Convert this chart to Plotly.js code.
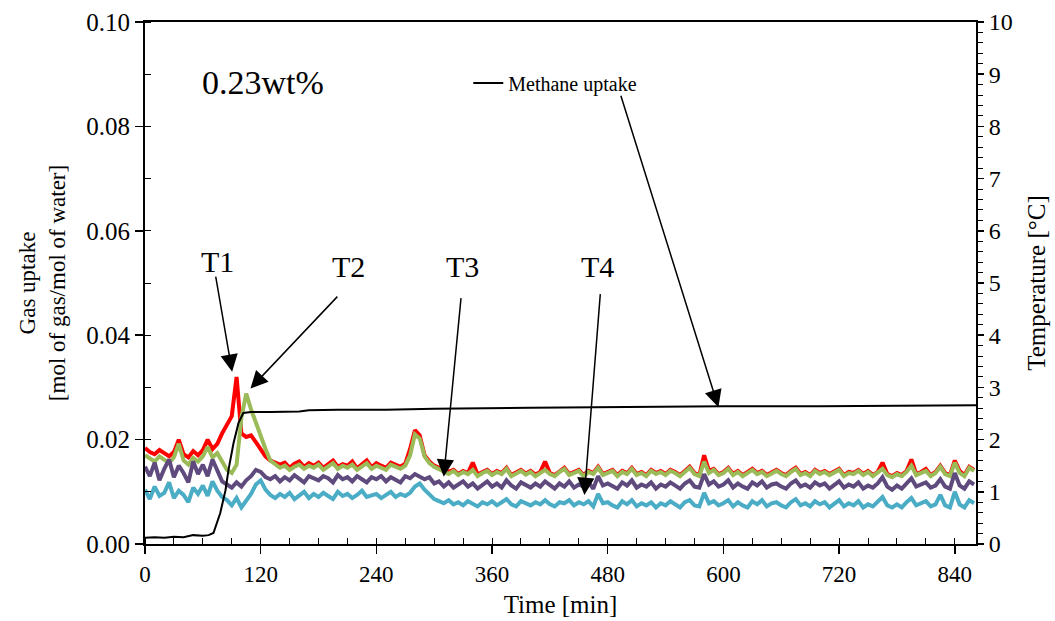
<!DOCTYPE html>
<html>
<head>
<meta charset="utf-8">
<script src="https://cdn.plot.ly/plotly-3.0.1.min.js"></script>
<style>
html,body{margin:0;padding:0;background:#fff;}
#chart{width:1055px;height:621px;}
</style>
</head>
<body>
<div id="chart"></div>
<script>
// Sampling interval of the temperature logs (minutes)
const sampleStepMin = 5;

// Temperature T1 (red), °C, every 5 min from 0 to 860 min
const tempT1 = [
  1.84,1.76,1.72,1.80,1.74,1.68,1.76,2.00,1.72,1.66,1.78,1.70,
  1.80,2.00,1.82,1.92,2.12,2.28,2.45,3.20,2.12,2.05,2.08,1.95,
  1.80,1.68,1.60,1.55,1.52,1.56,1.46,1.54,1.58,1.48,1.55,1.50,
  1.56,1.46,1.52,1.60,1.48,1.53,1.50,1.58,1.45,1.52,1.60,1.47,
  1.55,1.50,1.46,1.56,1.52,1.48,1.54,1.82,2.18,2.08,1.70,1.58,
  1.50,1.46,1.40,1.38,1.42,1.34,1.40,1.36,1.56,1.33,1.38,1.42,
  1.34,1.40,1.36,1.46,1.32,1.38,1.42,1.35,1.40,1.33,1.38,1.58,
  1.36,1.32,1.40,1.46,1.34,1.38,1.42,1.32,1.40,1.36,1.48,1.34,
  1.38,1.42,1.32,1.40,1.36,1.46,1.34,1.38,1.32,1.42,1.36,1.40,
  1.34,1.42,1.38,1.32,1.40,1.48,1.36,1.32,1.70,1.40,1.44,1.34,
  1.38,1.46,1.34,1.40,1.32,1.38,1.44,1.36,1.40,1.32,1.38,1.42,
  1.36,1.32,1.40,1.46,1.34,1.38,1.32,1.42,1.36,1.40,1.34,1.38,
  1.44,1.32,1.38,1.36,1.42,1.34,1.40,1.32,1.38,1.56,1.34,1.30,
  1.36,1.32,1.40,1.62,1.34,1.38,1.44,1.32,1.38,1.50,1.36,1.32,
  1.60,1.40,1.32,1.48,1.42
];

// Temperature T2 (green), °C
const tempT2 = [
  1.70,1.64,1.58,1.68,1.62,1.55,1.66,1.92,1.60,1.52,1.65,1.58,
  1.68,1.86,1.66,1.74,1.58,1.42,1.36,1.52,2.42,2.88,2.58,2.32,
  2.06,1.82,1.60,1.52,1.46,1.50,1.42,1.48,1.52,1.44,1.50,1.46,
  1.52,1.42,1.48,1.55,1.44,1.50,1.46,1.52,1.42,1.48,1.55,1.44,
  1.50,1.46,1.42,1.52,1.48,1.44,1.50,1.70,2.10,2.02,1.68,1.55,
  1.48,1.44,1.38,1.34,1.40,1.32,1.38,1.34,1.42,1.30,1.36,1.40,
  1.32,1.38,1.34,1.44,1.30,1.36,1.40,1.33,1.38,1.30,1.36,1.42,
  1.34,1.30,1.38,1.44,1.32,1.36,1.40,1.30,1.38,1.34,1.46,1.32,
  1.36,1.40,1.30,1.38,1.34,1.44,1.32,1.36,1.30,1.40,1.34,1.38,
  1.32,1.40,1.36,1.30,1.38,1.46,1.34,1.30,1.58,1.36,1.42,1.32,
  1.36,1.44,1.32,1.38,1.30,1.36,1.42,1.34,1.38,1.30,1.36,1.40,
  1.34,1.30,1.38,1.44,1.32,1.36,1.30,1.40,1.34,1.38,1.32,1.36,
  1.42,1.30,1.36,1.34,1.40,1.32,1.38,1.30,1.36,1.44,1.32,1.28,
  1.34,1.30,1.38,1.50,1.32,1.36,1.40,1.30,1.36,1.48,1.34,1.30,
  1.56,1.36,1.30,1.46,1.40
];

// Temperature T3 (purple), °C
const tempT3 = [
  1.48,1.30,1.56,1.22,1.44,1.62,1.28,1.50,1.36,1.18,1.58,1.34,
  1.52,1.30,1.62,1.40,1.20,1.14,1.08,1.18,1.10,1.22,1.30,1.42,
  1.38,1.28,1.24,1.30,1.20,1.28,1.22,1.32,1.24,1.18,1.30,1.26,
  1.22,1.30,1.26,1.18,1.32,1.24,1.28,1.20,1.30,1.24,1.18,1.28,
  1.24,1.30,1.20,1.28,1.24,1.18,1.30,1.26,1.34,1.30,1.24,1.28,
  1.16,1.20,1.10,1.18,1.08,1.14,1.20,1.10,1.16,1.06,1.14,1.20,
  1.10,1.16,1.08,1.22,1.12,1.06,1.18,1.12,1.08,1.16,1.10,1.20,
  1.12,1.06,1.16,1.10,1.20,1.08,1.14,1.10,1.18,1.06,1.30,1.12,
  1.16,1.10,1.06,1.18,1.12,1.22,1.08,1.14,1.10,1.18,1.06,1.14,
  1.10,1.18,1.12,1.06,1.16,1.22,1.10,1.08,1.34,1.14,1.20,1.10,
  1.14,1.22,1.08,1.16,1.10,1.06,1.18,1.12,1.20,1.08,1.14,1.16,
  1.10,1.06,1.16,1.22,1.10,1.14,1.08,1.18,1.12,1.16,1.06,1.12,
  1.20,1.08,1.14,1.10,1.18,1.06,1.12,1.08,1.16,1.28,1.10,1.04,
  1.12,1.06,1.16,1.26,1.10,1.14,1.18,1.08,1.12,1.24,1.10,1.06,
  1.36,1.12,1.06,1.20,1.14
];

// Temperature T4 (cyan), °C
const tempT4 = [
  1.04,0.86,1.10,0.92,0.98,1.18,0.88,1.02,0.94,0.80,1.08,0.96,
  1.12,0.92,1.20,1.02,0.90,0.84,0.74,0.88,0.70,0.82,0.96,1.14,
  1.22,1.04,0.94,0.88,0.96,0.90,0.98,0.86,0.94,1.00,0.88,0.96,
  0.90,0.98,0.92,0.86,1.00,0.92,0.96,0.88,0.94,1.02,0.90,0.94,
  0.96,0.88,0.94,1.00,0.90,0.96,0.92,0.98,1.10,1.16,1.04,0.94,
  0.86,0.82,0.78,0.84,0.76,0.80,0.74,0.82,0.78,0.72,0.80,0.76,
  0.82,0.74,0.80,0.86,0.76,0.72,0.82,0.78,0.74,0.80,0.76,0.84,
  0.76,0.72,0.80,0.78,0.84,0.74,0.80,0.76,0.82,0.72,0.96,0.78,
  0.80,0.74,0.70,0.82,0.76,0.84,0.72,0.78,0.74,0.80,0.70,0.78,
  0.74,0.82,0.76,0.70,0.80,0.84,0.74,0.72,0.98,0.78,0.82,0.74,
  0.78,0.84,0.72,0.80,0.74,0.70,0.82,0.76,0.84,0.72,0.78,0.80,
  0.74,0.70,0.80,0.86,0.74,0.78,0.72,0.82,0.76,0.80,0.70,0.76,
  0.84,0.72,0.78,0.74,0.82,0.70,0.76,0.72,0.80,0.90,0.74,0.70,
  0.76,0.70,0.80,0.88,0.74,0.78,0.82,0.72,0.76,0.94,0.74,0.70,
  1.00,0.76,0.70,0.84,0.78
];

// Methane uptake (mol gas / mol water)
const methaneTime = [0,10,20,30,40,50,60,66,71,78,83.5,86.6,91.8,97,102,110,130,160,170,200,250,300,400,500,600,700,800,862];
const methaneUptake = [0.0012,0.0013,0.0012,0.0014,0.0013,0.0017,0.0016,0.0017,0.0021,0.0059,0.0103,0.0142,0.0193,0.0232,0.0251,0.0253,0.0253,0.0254,0.0256,0.0257,0.0257,0.0259,0.0261,0.0263,0.0264,0.0264,0.0265,0.0266];

// Axis ticks
const timeTicks = [0,120,240,360,480,600,720,840];

const time = tempT1.map((_, i) => i * sampleStepMin);

const serif = 'Liberation Serif, Times New Roman, serif';
const colT1 = '#FF0000', colT2 = '#9BBB59', colT3 = '#5F4A7D', colT4 = '#4BACC6';
const tw = 4;

const traces = [
  {x: time, y: tempT1, yaxis: 'y', mode: 'lines', line: {color: colT1, width: tw}, name: 'T1', showlegend: false},
  {x: time, y: tempT2, yaxis: 'y', mode: 'lines', line: {color: colT2, width: tw}, name: 'T2', showlegend: false},
  {x: time, y: tempT3, yaxis: 'y', mode: 'lines', line: {color: colT3, width: tw}, name: 'T3', showlegend: false},
  {x: time, y: tempT4, yaxis: 'y', mode: 'lines', line: {color: colT4, width: tw}, name: 'T4', showlegend: false},
  {x: methaneTime, y: methaneUptake, yaxis: 'y2', mode: 'lines', line: {color: '#000000', width: 2}, name: 'Methane uptake', showlegend: true}
];

function arrow(x, y, ax, ay) {
  return {x: x, y: y, xref: 'x', yref: 'y2', ax: ax, ay: ay, text: '', showarrow: true,
          arrowhead: 2, arrowsize: 2.3, arrowwidth: 1.5, arrowcolor: '#000', standoff: 0};
}
function label(x, y, txt, size) {
  return {x: x, y: y, xref: 'x', yref: 'y2', text: txt, showarrow: false,
          font: {family: serif, size: size, color: '#000'}, xanchor: 'center', yanchor: 'middle'};
}

const layout = {
  width: 1055, height: 621,
  margin: {l: 145, r: 79, t: 22, b: 77},
  paper_bgcolor: '#fff', plot_bgcolor: '#fff',
  font: {family: serif, size: 22, color: '#000'},
  xaxis: {
    range: [0, 862], tickvals: timeTicks, ticks: 'outside', ticklen: 8, tickwidth: 1.5, tickcolor: '#000',
    showline: true, linecolor: '#000', linewidth: 2, mirror: true, showgrid: false, zeroline: false,
    minor: {dtick: 30, ticks: 'inside', ticklen: 6, tickwidth: 1, tickcolor: '#000'},
    title: {text: 'Time [min]', font: {family: serif, size: 25, color: '#000'}, standoff: 10},
    tickfont: {family: serif, size: 23, color: '#000'}
  },
  yaxis: {
    side: 'right', range: [0, 10], dtick: 1, ticks: 'outside', ticklen: 6, tickwidth: 1.5, tickcolor: '#000',
    showline: true, linecolor: '#000', linewidth: 2, showgrid: false, zeroline: false,
    minor: {dtick: 0.2, ticks: 'outside', ticklen: 5, tickwidth: 1, tickcolor: '#000'},
    title: {text: 'Temperature [°C]', font: {family: serif, size: 25, color: '#000'}, standoff: 16},
    tickfont: {family: serif, size: 24, color: '#000'}
  },
  yaxis2: {
    overlaying: 'y', side: 'left', range: [0, 0.1], dtick: 0.02, tickformat: '.2f',
    ticks: 'outside', ticklen: 8, tickwidth: 1.5, tickcolor: '#000',
    showline: true, linecolor: '#000', linewidth: 2, showgrid: false, zeroline: false,
    minor: {dtick: 0.01, ticks: 'inside', ticklen: 6, tickwidth: 1, tickcolor: '#000'},
    title: {text: 'Gas uptake<br>[mol of gas/mol of water]', font: {family: serif, size: 23, color: '#000'}, standoff: 14},
    tickfont: {family: serif, size: 25, color: '#000'}
  },
  showlegend: true,
  legend: {x: 0.389, y: 0.883, xanchor: 'left', yanchor: 'middle', bgcolor: 'rgba(0,0,0,0)',
           font: {family: serif, size: 20, color: '#000'}, borderwidth: 0},
  annotations: [
    label(121.9, 0.0885, '0.23wt%', 34),
    label(74.9, 0.0541, 'T1', 30),
    label(211.1, 0.0531, 'T2', 30),
    label(329.0, 0.0531, 'T3', 30),
    label(469.0, 0.0531, 'T4', 30),
    arrow(90.4, 0.0330, -16.7, -96.7),
    arrow(109.4, 0.0298, 88.3, -93.3),
    arrow(309.9, 0.0129, 17.4, -180),
    arrow(455.8, 0.0094, 16, -202.3),
    arrow(594.8, 0.0262, -98, -313)
  ]
};

Plotly.newPlot('chart', traces, layout, {displayModeBar: false, staticPlot: true});
</script>
</body>
</html>
